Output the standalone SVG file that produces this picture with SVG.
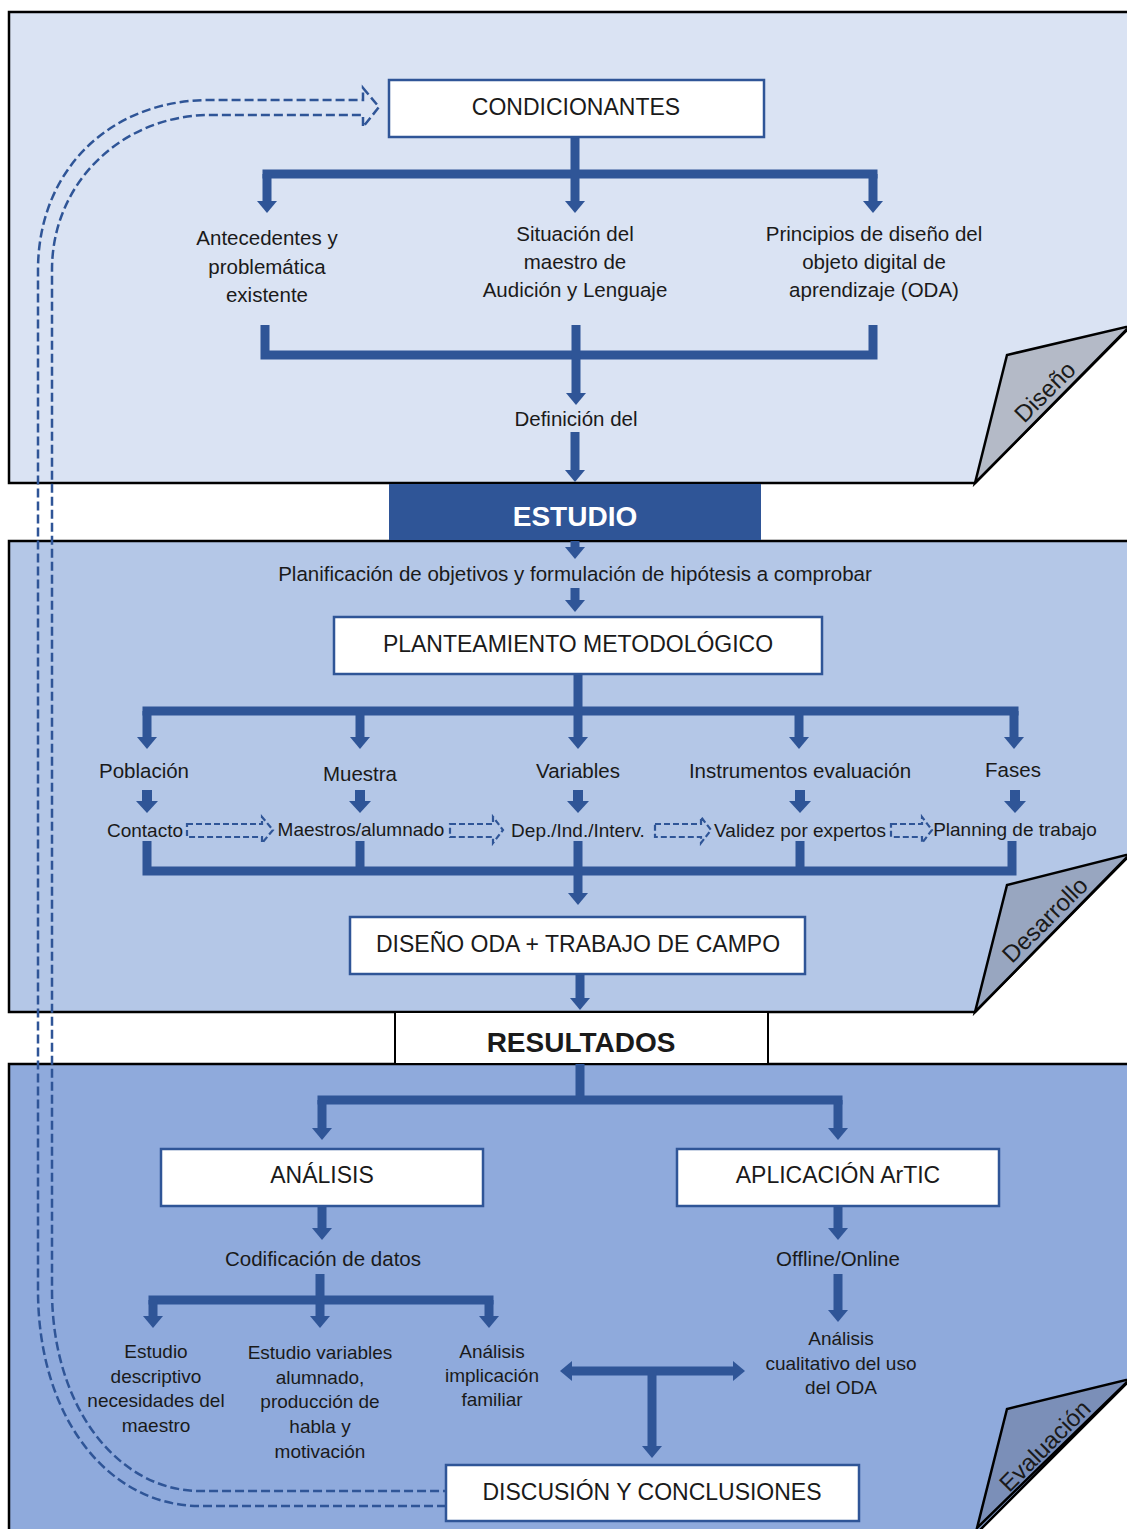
<svg xmlns="http://www.w3.org/2000/svg" width="1127" height="1529" viewBox="0 0 1127 1529">
  <style>
    .panel { stroke: #000; stroke-width: 2.5; }
    .fold { stroke: #000; stroke-width: 2.5; stroke-linejoin: miter; }
    .box { fill: #fff; stroke: #2f5597; stroke-width: 2.5; }
    .flow { fill: none; stroke: #2f5597; stroke-width: 9; stroke-linejoin: miter; }
    .arrow { fill: none; stroke: #2f5597; stroke-width: 9; marker-end: url(#head); }
    .small { fill: none; stroke: #2f5597; stroke-width: 10; marker-end: url(#headWide); }
    .dash { fill: none; stroke: #2f5597; stroke-width: 2.5; stroke-dasharray: 9 4; }
    .dashs { fill: none; stroke: #2f5597; stroke-width: 2.2; stroke-dasharray: 6 3; }
    text { font-family: "Liberation Sans", Arial, sans-serif; fill: #1a1a1a; text-anchor: middle; }
    .t { font-size: 20.5px; }
    .r { font-size: 19px; }
    .bt { font-size: 23px; }
    .tab { font-size: 24px; }
    .hdr { font-size: 28px; font-weight: bold; }
  </style>
  <defs>
    <marker id="head" markerUnits="userSpaceOnUse" markerWidth="12" markerHeight="20" refX="0" refY="10" orient="auto-start-reverse" overflow="visible">
      <path d="M0,0 L12,10 L0,20 Z" fill="#2f5597"/>
    </marker>
    <marker id="headWide" markerUnits="userSpaceOnUse" markerWidth="12" markerHeight="22" refX="0" refY="11" orient="auto" overflow="visible">
      <path d="M0,0 L12,11 L0,22 Z" fill="#2f5597"/>
    </marker>
  </defs>

  <rect width="1127" height="1529" fill="#fff"/>

  <!-- phase panels with folded corners -->
  <g id="panel-diseno">
    <path class="panel" d="M9,12 H1130 V327 L975,483 H9 Z" fill="#dae3f3"/>
    <path class="fold" d="M975,483 L1007,355 L1130,326 Z" fill="#b4bac7"/>
    <text class="tab" transform="translate(1045,392) rotate(-45)" dy="8">Diseño</text>
  </g>
  <g id="panel-desarrollo">
    <path class="panel" d="M9,541 H1130 V855 L975,1012 H9 Z" fill="#b4c7e7"/>
    <path class="fold" d="M975,1012 L1007,885 L1130,854 Z" fill="#98a6c0"/>
    <text class="tab" transform="translate(1045,920) rotate(-45)" dy="8">Desarrollo</text>
  </g>
  <g id="panel-evaluacion">
    <path class="panel" d="M9,1064 H1130 V1380 L976,1534 H9 Z" fill="#8faadc"/>
    <path class="fold" d="M977,1528 L1007,1409 L1130,1379 Z" fill="#7b8fb8"/>
    <text class="tab" transform="translate(1045,1446) rotate(-45)" dy="8">Evaluación</text>
  </g>

  <!-- stage headers -->
  <g id="estudio">
    <rect x="389" y="484" width="372" height="56" fill="#2f5597"/>
    <text class="hdr" x="575" y="526" style="fill:#fff">ESTUDIO</text>
  </g>
  <g id="resultados">
    <rect x="395" y="1012" width="373" height="52" fill="#fff" stroke="#000" stroke-width="2"/>
    <text class="hdr" x="581" y="1052">RESULTADOS</text>
  </g>

  <!-- connectors -->
  <g id="connectors">
    <!-- Diseño -->
    <path class="flow" d="M575,137 V174 M262.5,174 H877.5"/>
    <path class="arrow" d="M267,174 V201"/>
    <path class="arrow" d="M575,174 V201"/>
    <path class="arrow" d="M873,174 V201"/>
    <path class="flow" d="M265,325 V355 H873 V325 M576,325 V355"/>
    <path class="arrow" d="M576,355 V393"/>
    <path class="arrow" d="M575,432 V470"/>
    <!-- Desarrollo -->
    <path class="arrow" d="M575,541 V547"/>
    <path class="arrow" d="M575,588 V600"/>
    <path class="flow" d="M578,674 V711 M142.5,711 H1018.5"/>
    <path class="arrow" d="M147,711 V737"/>
    <path class="arrow" d="M360,711 V737"/>
    <path class="arrow" d="M578,711 V737"/>
    <path class="arrow" d="M799,711 V737"/>
    <path class="arrow" d="M1014,711 V737"/>
    <path class="small" d="M147,790 V801"/>
    <path class="small" d="M360,790 V801"/>
    <path class="small" d="M578,790 V801"/>
    <path class="small" d="M800,790 V801"/>
    <path class="small" d="M1015,790 V801"/>
    <path class="dashs" d="M187,824 H262 V817 L273,830 L262,843 V837 H187 Z"/>
    <path class="dashs" d="M450,824 H493 V817 L503,830 L493,843 V837 H450 Z"/>
    <path class="dashs" d="M655,824 H701 V817 L711,830 L701,843 V837 H655 Z"/>
    <path class="dashs" d="M891,824 H922 V817 L932,830 L922,843 V837 H891 Z"/>
    <path class="flow" d="M147,841 V871 H1012 V841 M360,841 V871 M578,841 V871 M800,841 V871"/>
    <path class="arrow" d="M578,871 V893"/>
    <path class="arrow" d="M580,974 V998"/>
    <!-- Evaluación -->
    <path class="flow" d="M580,1064 V1100 M317.5,1100 H842.5"/>
    <path class="arrow" d="M322,1100 V1128"/>
    <path class="arrow" d="M838,1100 V1128"/>
    <path class="arrow" d="M322,1206 V1228"/>
    <path class="arrow" d="M838,1206 V1228"/>
    <path class="flow" d="M320,1274 V1300 M148.5,1300 H493.5"/>
    <path class="arrow" d="M153,1300 V1316"/>
    <path class="arrow" d="M320,1300 V1316"/>
    <path class="arrow" d="M489,1300 V1316"/>
    <path class="arrow" d="M838,1274 V1310"/>
    <path class="arrow" d="M572,1371 H733" marker-start="url(#head)"/>
    <path class="arrow" d="M652,1371 V1446"/>
    <!-- feedback loop back to the start -->
    <path class="dash" d="M446,1506 H200 C110,1506 38,1420 38,1290 V270 C38,170 110,100 210,100 H363 V88 L379,107 L363,127 V115 H210 C125,115 52,180 52,270 V1290 C52,1410 120,1491 200,1491 H446"/>
  </g>

  <!-- nodes -->
  <g id="condicionantes">
    <rect class="box" x="389" y="80" width="375" height="57"/>
    <text class="bt" x="576" y="115">CONDICIONANTES</text>
  </g>
  <g id="antecedentes">
    <text class="t" x="267" y="245"><tspan x="267">Antecedentes y</tspan><tspan x="267" dy="28.5">problemática</tspan><tspan x="267" dy="28.5">existente</tspan></text>
  </g>
  <g id="situacion">
    <text class="t" x="575" y="241"><tspan x="575">Situación del</tspan><tspan x="575" dy="28">maestro de</tspan><tspan x="575" dy="28">Audición y Lenguaje</tspan></text>
  </g>
  <g id="principios">
    <text class="t" x="874" y="241"><tspan x="874">Principios de diseño del</tspan><tspan x="874" dy="28">objeto digital de</tspan><tspan x="874" dy="28">aprendizaje (ODA)</tspan></text>
  </g>
  <g id="definicion">
    <text class="t" x="576" y="426">Definición del</text>
  </g>
  <g id="planificacion">
    <text class="t" x="575" y="581">Planificación de objetivos y formulación de hipótesis a comprobar</text>
  </g>
  <g id="planteamiento">
    <rect class="box" x="334" y="617" width="488" height="57"/>
    <text class="bt" x="578" y="652">PLANTEAMIENTO METODOLÓGICO</text>
  </g>
  <g id="poblacion"><text class="t" x="144" y="778">Población</text></g>
  <g id="muestra"><text class="t" x="360" y="781">Muestra</text></g>
  <g id="variables"><text class="t" x="578" y="778">Variables</text></g>
  <g id="instrumentos"><text class="t" x="800" y="778">Instrumentos evaluación</text></g>
  <g id="fases"><text class="t" x="1013" y="777">Fases</text></g>
  <g id="contacto"><text class="r" x="145" y="837">Contacto</text></g>
  <g id="maestros"><text class="r" x="361" y="836">Maestros/alumnado</text></g>
  <g id="dep"><text class="r" x="578" y="837">Dep./Ind./Interv.</text></g>
  <g id="validez"><text class="r" x="800" y="837">Validez por expertos</text></g>
  <g id="planning"><text class="r" x="1015" y="836">Planning de trabajo</text></g>
  <g id="diseno-oda">
    <rect class="box" x="350" y="917" width="455" height="57"/>
    <text class="bt" x="578" y="952">DISEÑO ODA + TRABAJO DE CAMPO</text>
  </g>
  <g id="analisis">
    <rect class="box" x="161" y="1149" width="322" height="57"/>
    <text class="bt" x="322" y="1183">ANÁLISIS</text>
  </g>
  <g id="aplicacion">
    <rect class="box" x="677" y="1149" width="322" height="57"/>
    <text class="bt" x="838" y="1183">APLICACIÓN ArTIC</text>
  </g>
  <g id="codificacion"><text class="t" x="323" y="1266">Codificación de datos</text></g>
  <g id="offline"><text class="t" x="838" y="1266">Offline/Online</text></g>
  <g id="estudio-descriptivo">
    <text class="r" x="156" y="1358"><tspan x="156">Estudio</tspan><tspan x="156" dy="24.7">descriptivo</tspan><tspan x="156" dy="24.7">necesidades del</tspan><tspan x="156" dy="24.7">maestro</tspan></text>
  </g>
  <g id="estudio-variables">
    <text class="r" x="320" y="1359"><tspan x="320">Estudio variables</tspan><tspan x="320" dy="24.7">alumnado,</tspan><tspan x="320" dy="24.7">producción de</tspan><tspan x="320" dy="24.7">habla y</tspan><tspan x="320" dy="24.7">motivación</tspan></text>
  </g>
  <g id="implicacion">
    <text class="r" x="492" y="1358"><tspan x="492">Análisis</tspan><tspan x="492" dy="24">implicación</tspan><tspan x="492" dy="24">familiar</tspan></text>
  </g>
  <g id="cualitativo">
    <text class="r" x="841" y="1345"><tspan x="841">Análisis</tspan><tspan x="841" dy="24.5">cualitativo del uso</tspan><tspan x="841" dy="24.5">del ODA</tspan></text>
  </g>
  <g id="discusion">
    <rect class="box" x="446" y="1465" width="413" height="56"/>
    <text class="bt" x="652" y="1500">DISCUSIÓN Y CONCLUSIONES</text>
  </g>
</svg>
